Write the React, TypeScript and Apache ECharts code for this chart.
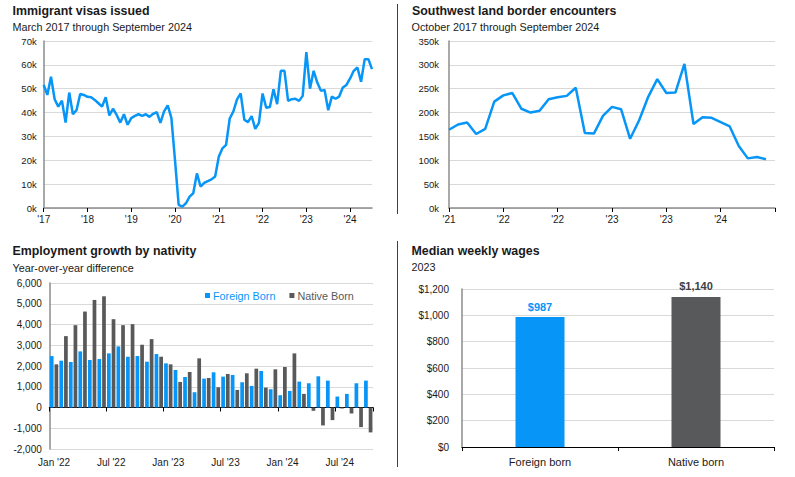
import React, { useEffect, useRef } from 'react';
import * as echarts from 'echarts';

const FONT = '"Liberation Sans", Arial, Helvetica, sans-serif';
const BLUE = '#0796F7';
const GRAY = '#58595B';
const GRID_COLOR = '#d9d9d9';
const AXIS_GRAY = '#8c8c8c';
const TEXT = '#1a1a1a';

const MONTHS = ['Jan', 'Feb', 'Mar', 'Apr', 'May', 'Jun', 'Jul', 'Aug', 'Sep', 'Oct', 'Nov', 'Dec'];
function monthSeries(year: number, month: number, n: number): string[] {
  const out: string[] = [];
  for (let i = 0; i < n; i++) {
    const mm = (month + i) % 12;
    const yy = year + Math.floor((month + i) / 12);
    out.push(`${MONTHS[mm]} '${String(yy).slice(2)}`);
  }
  return out;
}

// Immigrant visas issued (thousands), Mar 2017 onward, monthly
const visaMonths = monthSeries(2017, 2, 91);
const visaValues = [
  51.6, 47.4, 55, 45.6, 42.5, 45, 35.8, 48.4, 39.3, 41,
  47.8, 47.4, 46.6, 46.4, 45.3, 43.9, 42.5, 46.4, 38.8, 41.6,
  39, 35.8, 39.3, 34.9, 37.7, 38.6, 39.3, 38.6, 39.3, 38.2,
  39.5, 40.2, 35.7, 40.5, 43, 37.8, 20, 1.3, 0.6, 2,
  4.8, 6.2, 14.5, 9, 10.5, 11.3, 12, 13.2, 21.5, 25,
  26.5, 37.5, 40.5, 45.5, 48, 37, 36, 38.5, 33.2, 35.7,
  48, 42, 42.3, 49.8, 43.5, 57.5, 57.5, 44.9, 45.6, 45.8,
  44.9, 47, 65.3, 50, 57.5, 52.6, 49.1, 49.5, 41, 46.7,
  45.8, 46.7, 50.5, 51.6, 54.3, 57.5, 58.9, 52.9, 62.4, 62.4,
  58.2,
];

// Southwest land border encounters (thousands), Oct 2021 - Sep 2024
const borderMonths = monthSeries(2021, 9, 37);
const borderValues = [
  164, 175, 179, 155, 166, 223, 236, 241, 208, 200, 204, 228,
  232, 235, 252, 157, 156, 193, 212, 207, 145, 184, 233, 270,
  241, 242, 302, 176, 190, 189, 180, 171, 130, 104, 107, 102,
];

// Employment growth by nativity, year-over-year difference (thousands)
const empMonths = monthSeries(2022, 0, 34);
const foreignBorn = [
  2480, 2256, 2192, 2704, 2288, 2336, 2608, 2944, 2448, 2480, 2208, 2576,
  2128, 1808, 1472, 736, 1392, 1696, 1488, 1568, 1216, 1040, 1760, 880,
  592, 800, 1248, 1168, 1504, 1296, 528, 656, 1168, 1296,
];
const nativeBorn = [
  2080, 3440, 3968, 4624, 5184, 5360, 4256, 3968, 4016, 3024, 3296, 2448,
  2080, 1232, 1712, 2368, 1424, 976, 1616, 848, 1648, 1872, 960, 1840,
  1952, 2608, 656, -160, -864, -608, -48, -288, -944, -1200,
];

// Median weekly wages 2023
const wageCategories = ['Foreign born', 'Native born'];
const wageValues = [987, 1140];

const fmt = (v: number) => new Intl.NumberFormat('en-US').format(v);
const yearLabel = (val: string) => "'" + val.split("'")[1];

function titleText(text: string, x: number, y: number) {
  return {
    type: 'text',
    x,
    y,
    style: { text, fontSize: 12.4, fontWeight: 'bold', fontFamily: FONT, fill: TEXT, verticalAlign: 'middle' },
  };
}
function subText(text: string, x: number, y: number) {
  return {
    type: 'text',
    x,
    y,
    style: { text, fontSize: 10.8, fontFamily: FONT, fill: TEXT, verticalAlign: 'middle' },
  };
}

export default function App() {
  const ref = useRef<HTMLDivElement>(null);
  useEffect(() => {
    document.body.style.margin = '0';
    const chart = echarts.init(ref.current!, null, { renderer: 'svg' });
    const yLabel = (size: number, margin: number, formatter: any) => ({
      fontSize: size,
      fontFamily: FONT,
      color: TEXT,
      margin,
      formatter,
    });
    const option: any = {
      animation: false,
      textStyle: { fontFamily: FONT },
      grid: [
        { left: 43.7, right: 423, top: 41, bottom: 269 },
        { left: 449, right: 20, top: 41, bottom: 269 },
        { left: 49.3, right: 422, top: 283, bottom: 28 },
        { left: 462, right: 21, top: 289, bottom: 30 },
      ],
      legend: {
        left: 205,
        top: 290,
        padding: 0,
        itemWidth: 5,
        itemHeight: 5,
        itemGap: 14,
        icon: 'rect',
        textStyle: { fontSize: 10.8, fontFamily: FONT, padding: [0, 0, 0, -2] },
        data: [
          { name: 'Foreign Born', textStyle: { color: BLUE } },
          { name: 'Native Born', textStyle: { color: '#595959' } },
        ],
      },
      xAxis: [
        {
          gridIndex: 0,
          type: 'category',
          data: visaMonths,
          boundaryGap: false,
          axisLine: { lineStyle: { color: AXIS_GRAY, width: 1.5 } },
          axisTick: { interval: 11, length: 4, lineStyle: { color: '#000' } },
          axisLabel: { interval: 11, formatter: (v: string) => yearLabel(v), fontSize: 10, color: TEXT, margin: 6 },
          splitLine: { show: false },
        },
        {
          gridIndex: 1,
          type: 'category',
          data: borderMonths,
          boundaryGap: false,
          axisLine: { lineStyle: { color: AXIS_GRAY, width: 1.5 } },
          axisTick: { interval: 5, length: 4, lineStyle: { color: '#000' } },
          axisLabel: {
            interval: 5,
            formatter: (v: string, i: number) => (i === 36 ? '' : yearLabel(v)),
            fontSize: 10,
            color: TEXT,
            margin: 6,
          },
          splitLine: { show: false },
        },
        {
          gridIndex: 2,
          type: 'category',
          data: empMonths,
          position: 'bottom',
          axisLine: { show: false, onZero: false },
          axisTick: { show: false },
          axisLabel: { interval: 5, fontSize: 10, color: TEXT, margin: 8 },
        },
        {
          gridIndex: 2,
          type: 'category',
          data: empMonths,
          position: 'top',
          axisLine: { show: true, onZero: true, lineStyle: { color: '#000', width: 1 } },
          axisTick: { show: true, interval: 5, inside: true, length: 4, lineStyle: { color: '#000' } },
          axisLabel: { show: false },
        },
        {
          gridIndex: 3,
          type: 'category',
          data: wageCategories,
          axisLine: { lineStyle: { color: '#000', width: 1 } },
          axisTick: { show: true, length: 4, lineStyle: { color: '#000' } },
          axisLabel: { fontSize: 11, color: TEXT, margin: 9 },
        },
      ],
      yAxis: [
        {
          gridIndex: 0,
          type: 'value',
          min: 0,
          max: 70,
          interval: 10,
          axisLine: { show: true, lineStyle: { color: AXIS_GRAY, width: 1.5 } },
          axisTick: { show: false },
          splitLine: { lineStyle: { color: GRID_COLOR, width: 1 } },
          axisLabel: yLabel(9.5, 7, (v: number) => `${v}k`),
        },
        {
          gridIndex: 1,
          type: 'value',
          min: 0,
          max: 350,
          interval: 50,
          axisLine: { show: true, lineStyle: { color: AXIS_GRAY, width: 1.5 } },
          axisTick: { show: false },
          splitLine: { lineStyle: { color: GRID_COLOR, width: 1 } },
          axisLabel: yLabel(9.5, 10, (v: number) => `${v}k`),
        },
        {
          gridIndex: 2,
          type: 'value',
          min: -2000,
          max: 6000,
          interval: 1000,
          axisLine: { show: true, lineStyle: { color: AXIS_GRAY, width: 1.5 } },
          axisTick: { show: false },
          splitLine: { lineStyle: { color: GRID_COLOR, width: 1 } },
          axisLabel: yLabel(10, 7.5, (v: number) => fmt(v)),
        },
        {
          gridIndex: 3,
          type: 'value',
          min: 0,
          max: 1200,
          interval: 200,
          axisLine: { show: true, lineStyle: { color: AXIS_GRAY, width: 1.5 } },
          axisTick: { show: false },
          splitLine: { lineStyle: { color: GRID_COLOR, width: 1 } },
          axisLabel: yLabel(10, 13, (v: number) => '$' + fmt(v)),
        },
      ],
      series: [
        {
          name: 'Immigrant visas issued',
          type: 'line',
          xAxisIndex: 0,
          yAxisIndex: 0,
          data: visaValues,
          showSymbol: false,
          symbol: 'none',
          lineStyle: { width: 2.5, color: BLUE },
          itemStyle: { color: BLUE },
          z: 3,
        },
        {
          name: 'Southwest land border encounters',
          type: 'line',
          xAxisIndex: 1,
          yAxisIndex: 1,
          data: borderValues,
          showSymbol: false,
          symbol: 'none',
          lineStyle: { width: 2.5, color: BLUE },
          itemStyle: { color: BLUE },
          z: 3,
        },
        {
          name: 'Foreign Born',
          type: 'bar',
          xAxisIndex: 2,
          yAxisIndex: 2,
          data: foreignBorn,
          itemStyle: { color: BLUE },
          barCategoryGap: '12%',
          barGap: '25%',
        },
        {
          name: 'Native Born',
          type: 'bar',
          xAxisIndex: 2,
          yAxisIndex: 2,
          data: nativeBorn,
          itemStyle: { color: '#595959' },
          barCategoryGap: '12%',
          barGap: '25%',
        },
        {
          name: 'Median weekly wages',
          type: 'bar',
          xAxisIndex: 4,
          yAxisIndex: 3,
          barWidth: 49,
          data: wageValues.map((v, i) => ({
            value: v,
            itemStyle: { color: i === 0 ? BLUE : GRAY },
            label: { color: i === 0 ? BLUE : '#404040' },
          })),
          label: {
            show: true,
            position: 'top',
            distance: 5,
            fontSize: 11,
            fontWeight: 'bold',
            fontFamily: FONT,
            formatter: (p: any) => '$' + fmt(p.value),
          },
        },
      ],
      graphic: [
        titleText('Immigrant visas issued', 12.5, 11),
        subText('March 2017 through September 2024', 12.5, 26.5),
        titleText('Southwest land border encounters', 412, 11),
        subText('October 2017 through September 2024', 411.5, 26.5),
        titleText('Employment growth by nativity', 12.5, 250.5),
        subText('Year-over-year difference', 12.5, 267.5),
        titleText('Median weekly wages', 411.5, 251),
        subText('2023', 411.5, 267),
        { type: 'line', shape: { x1: 397.5, y1: 4, x2: 397.5, y2: 214 }, style: { stroke: '#404040', lineWidth: 1 } },
        { type: 'line', shape: { x1: 397.5, y1: 241, x2: 397.5, y2: 467 }, style: { stroke: '#404040', lineWidth: 1 } },
      ],
    };
    chart.setOption(option);
    return () => chart.dispose();
  }, []);
  return <div ref={ref} style={{ width: 795, height: 477 }} />;
}
